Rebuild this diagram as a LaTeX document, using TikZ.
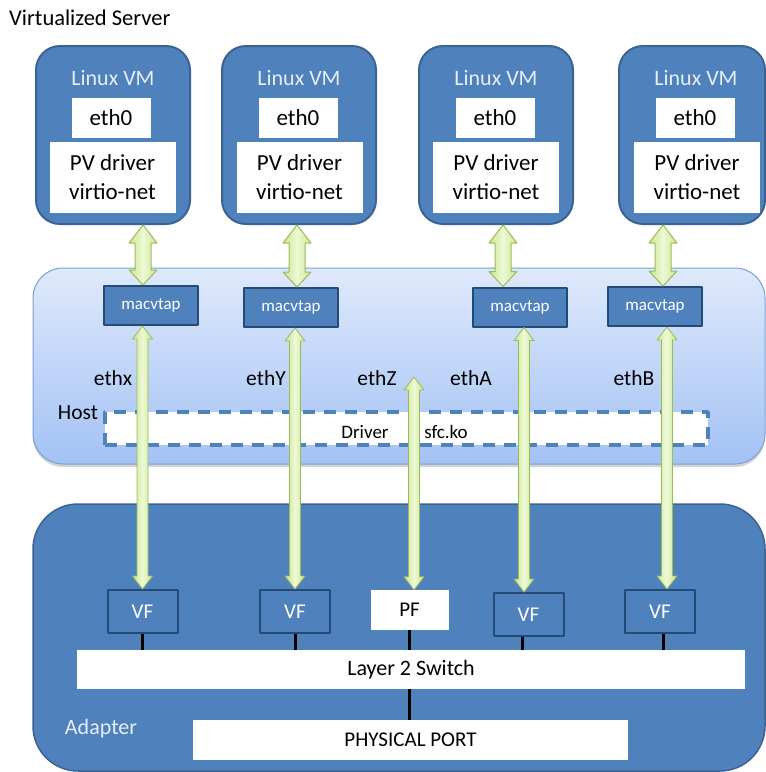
\documentclass[tikz,border=0pt]{standalone}
\usepackage{fontspec}
\setmainfont{Carlito}
\usetikzlibrary{calc,shadows}
\definecolor{vmblue}{HTML}{4F81BD}
\definecolor{vmedge}{HTML}{3A6394}
\definecolor{tapedge}{HTML}{244A78}
\definecolor{hosttop}{HTML}{DFE9FB}
\definecolor{hostbot}{HTML}{A3C2F5}
\definecolor{hostedge}{HTML}{7A9FD4}
\definecolor{greenlight}{HTML}{EEF9D6}
\definecolor{greenside}{HTML}{C8E693}
\definecolor{greenedge}{HTML}{9BBB59}
\definecolor{softwhite}{HTML}{E6EEF8}
\tikzset{
  vmbox/.style={draw=vmedge, line width=2pt, fill=vmblue, rounded corners=24pt,
    minimum width=154pt, minimum height=178pt},
  vmlabel/.style={text=softwhite, font=\fontsize{22}{26}\selectfont},
  ethbox/.style={fill=white, minimum width=79pt, minimum height=40pt, inner sep=0pt,
    font=\fontsize{23}{27}\selectfont},
  pvbox/.style={fill=white, minimum width=126pt, minimum height=71pt, inner sep=0pt,
    align=center, font=\fontsize{23}{29}\selectfont},
  tapbox/.style={draw=tapedge, line width=2pt, fill=vmblue, minimum width=94pt,
    minimum height=39pt, text=white, font=\fontsize{17}{20}\selectfont},
  vfbox/.style={draw=tapedge, line width=2pt, minimum width=70pt, minimum height=43pt,
    text=white, font=\fontsize{21}{24}\selectfont},
  barbox/.style={fill=white, inner sep=0pt, font=\fontsize{22}{26}\selectfont},
  hostlabel/.style={font=\fontsize{21.5}{25}\selectfont},
  drvlabel/.style={font=\fontsize{19}{23}\selectfont},
  tick/.style={line width=3pt},
  fatarrow/.style={draw=greenedge, line width=1pt, left color=greenside,
    right color=greenside, middle color=greenlight,
    to path={let \p1=(\tikztostart), \p2=(\tikztotarget) in
      (\x1,\y1) -- (\x1+14pt,\y1-18pt) -- (\x1+8pt,\y1-18pt) -- (\x1+8pt,\y2+15pt)
      -- (\x1+14pt,\y2+15pt) -- (\x1,\y2) -- (\x1-14pt,\y2+15pt) -- (\x1-8pt,\y2+15pt)
      -- (\x1-8pt,\y1-18pt) -- (\x1-14pt,\y1-18pt) -- cycle}},
  longarrow/.style={draw=greenedge, line width=0.8pt, left color=greenside,
    right color=greenside, middle color=greenlight,
    to path={let \p1=(\tikztostart), \p2=(\tikztotarget) in
      (\x2,\y1) -- (\x2+10pt,\y1-13pt) -- (\x2+5.5pt,\y1-13pt) -- (\x2+5.5pt,\y2+13pt)
      -- (\x2+10pt,\y2+13pt) -- (\x2,\y2) -- (\x2-10pt,\y2+13pt) -- (\x2-5.5pt,\y2+13pt)
      -- (\x2-5.5pt,\y1-13pt) -- (\x2-10pt,\y1-13pt) -- cycle}}
}
\begin{document}
\begin{tikzpicture}[x=1pt,y=-1pt,line join=round]
  \useasboundingbox (0,0) rectangle (766,772);
  \node[anchor=west, inner sep=0pt, font=\fontsize{22.5}{26}\selectfont] (title) at (9,18) {Virtualized Server};
  % virtual machines
  \node[vmbox] (vm1) at (113,135) {};
  \node[vmbox] (vm2) at (299,135) {};
  \node[vmbox] (vm3) at (496,135) {};
  \node[vmbox, minimum width=146pt] (vm4) at (692,135) {};
  \node[vmlabel] (lvm1) at (113,78) {Linux VM};
  \node[vmlabel] (lvm2) at (299,78) {Linux VM};
  \node[vmlabel] (lvm3) at (496,78) {Linux VM};
  \node[vmlabel] (lvm4) at (696,78) {Linux VM};
  \node[ethbox] (eth1) at (111,118) {eth0};
  \node[ethbox] (eth2) at (298,118) {eth0};
  \node[ethbox] (eth3) at (495,118) {eth0};
  \node[ethbox] (eth4) at (695,118) {eth0};
  \node[pvbox] (pv1) at (112.5,177.5) {PV driver\\virtio-net};
  \node[pvbox] (pv2) at (299.5,177.5) {PV driver\\virtio-net};
  \node[pvbox] (pv3) at (496,177.5) {PV driver\\virtio-net};
  \node[pvbox] (pv4) at (697,177.5) {PV driver\\virtio-net};
  % host
  \node[draw=hostedge, line width=1pt, top color=hosttop, bottom color=hostbot,
    rounded corners=30pt, minimum width=732pt, minimum height=196pt,
    drop shadow={shadow xshift=0pt, shadow yshift=-3pt, opacity=0.35}] (host) at (399,366) {};
  \node[draw=vmblue, line width=3.5pt, dash pattern=on 12pt off 9pt, fill=white,
    minimum width=603pt, minimum height=33pt] (drv) at (406.5,428.5) {};
  \node[hostlabel] (hostlbl) at (78,413) {Host};
  \node[drvlabel] (drvlbl) at (365,432) {Driver};
  \node[drvlabel] (sfclbl) at (446,432) {sfc.ko};
  \node[hostlabel] (ethx) at (113,378) {ethx};
  \node[hostlabel] (ethy) at (266,378) {ethY};
  \node[hostlabel] (ethz) at (377,378) {ethZ};
  \node[hostlabel] (etha) at (471,378) {ethA};
  \node[hostlabel] (ethb) at (634,378) {ethB};
  \coordinate (ztop) at (414,377);
  \node[tapbox] (tap1) at (151,305.5) {macvtap};
  \node[tapbox] (tap2) at (291,307.5) {macvtap};
  \node[tapbox] (tap3) at (520,307) {macvtap};
  \node[tapbox] (tap4) at (655,306.5) {macvtap};
  % adapter
  \node[draw=vmedge, line width=1.5pt, fill=vmblue, rounded corners=45pt,
    minimum width=732pt, minimum height=267pt] (adapter) at (399,637.5) {};
  \node[text=softwhite, font=\fontsize{22}{26}\selectfont] (adlbl) at (101,729) {Adapter};
  \node[vfbox] (vf1) at (142.5,611.5) {VF};
  \node[vfbox] (vf2) at (295,611.5) {VF};
  \node[barbox, minimum width=78pt, minimum height=40pt, font=\fontsize{21}{24}\selectfont] (pf) at (409.5,610) {PF};
  \node[vfbox] (vf3) at (528.5,614.5) {VF};
  \node[vfbox] (vf4) at (660,611.5) {VF};
  \node[barbox, minimum width=668pt, minimum height=39pt] (switch) at (411,669.5) {Layer 2 Switch};
  \node[barbox, minimum width=435pt, minimum height=40pt, font=\fontsize{21}{24}\selectfont] (port) at (410.5,740) {PHYSICAL PORT};
  \draw[tick] (vf1.south) -- (vf1.south |- switch.north);
  \draw[tick] (vf2.south) -- (vf2.south |- switch.north);
  \draw[tick] (pf.south) -- (pf.south |- switch.north);
  \draw[tick] ([xshift=-6pt]vf3.south) -- ([xshift=-6pt]vf3.south |- switch.north);
  \draw[tick] ([xshift=3pt]vf4.south) -- ([xshift=3pt]vf4.south |- switch.north);
  \draw[tick] (pf.south |- switch.south) -- (pf.south |- port.north);
  % arrows
  \draw[fatarrow] ([xshift=30pt]vm1.south) to (tap1.north);
  \draw[fatarrow] ([xshift=-2pt]vm2.south) to (tap2.north);
  \draw[fatarrow] ([xshift=7pt]vm3.south) to (tap3.north);
  \draw[fatarrow] ([xshift=-29pt]vm4.south) to (tap4.north);
  \draw[longarrow] (tap1.south) to (vf1.north);
  \draw[longarrow] (tap2.south) to (vf2.north);
  \draw[longarrow] (ztop) to ([xshift=4.5pt]pf.north);
  \draw[longarrow] (tap3.south) to ([xshift=-4.5pt]vf3.north);
  \draw[longarrow] (tap4.south) to ([xshift=7pt]vf4.north);
\end{tikzpicture}
\end{document}
